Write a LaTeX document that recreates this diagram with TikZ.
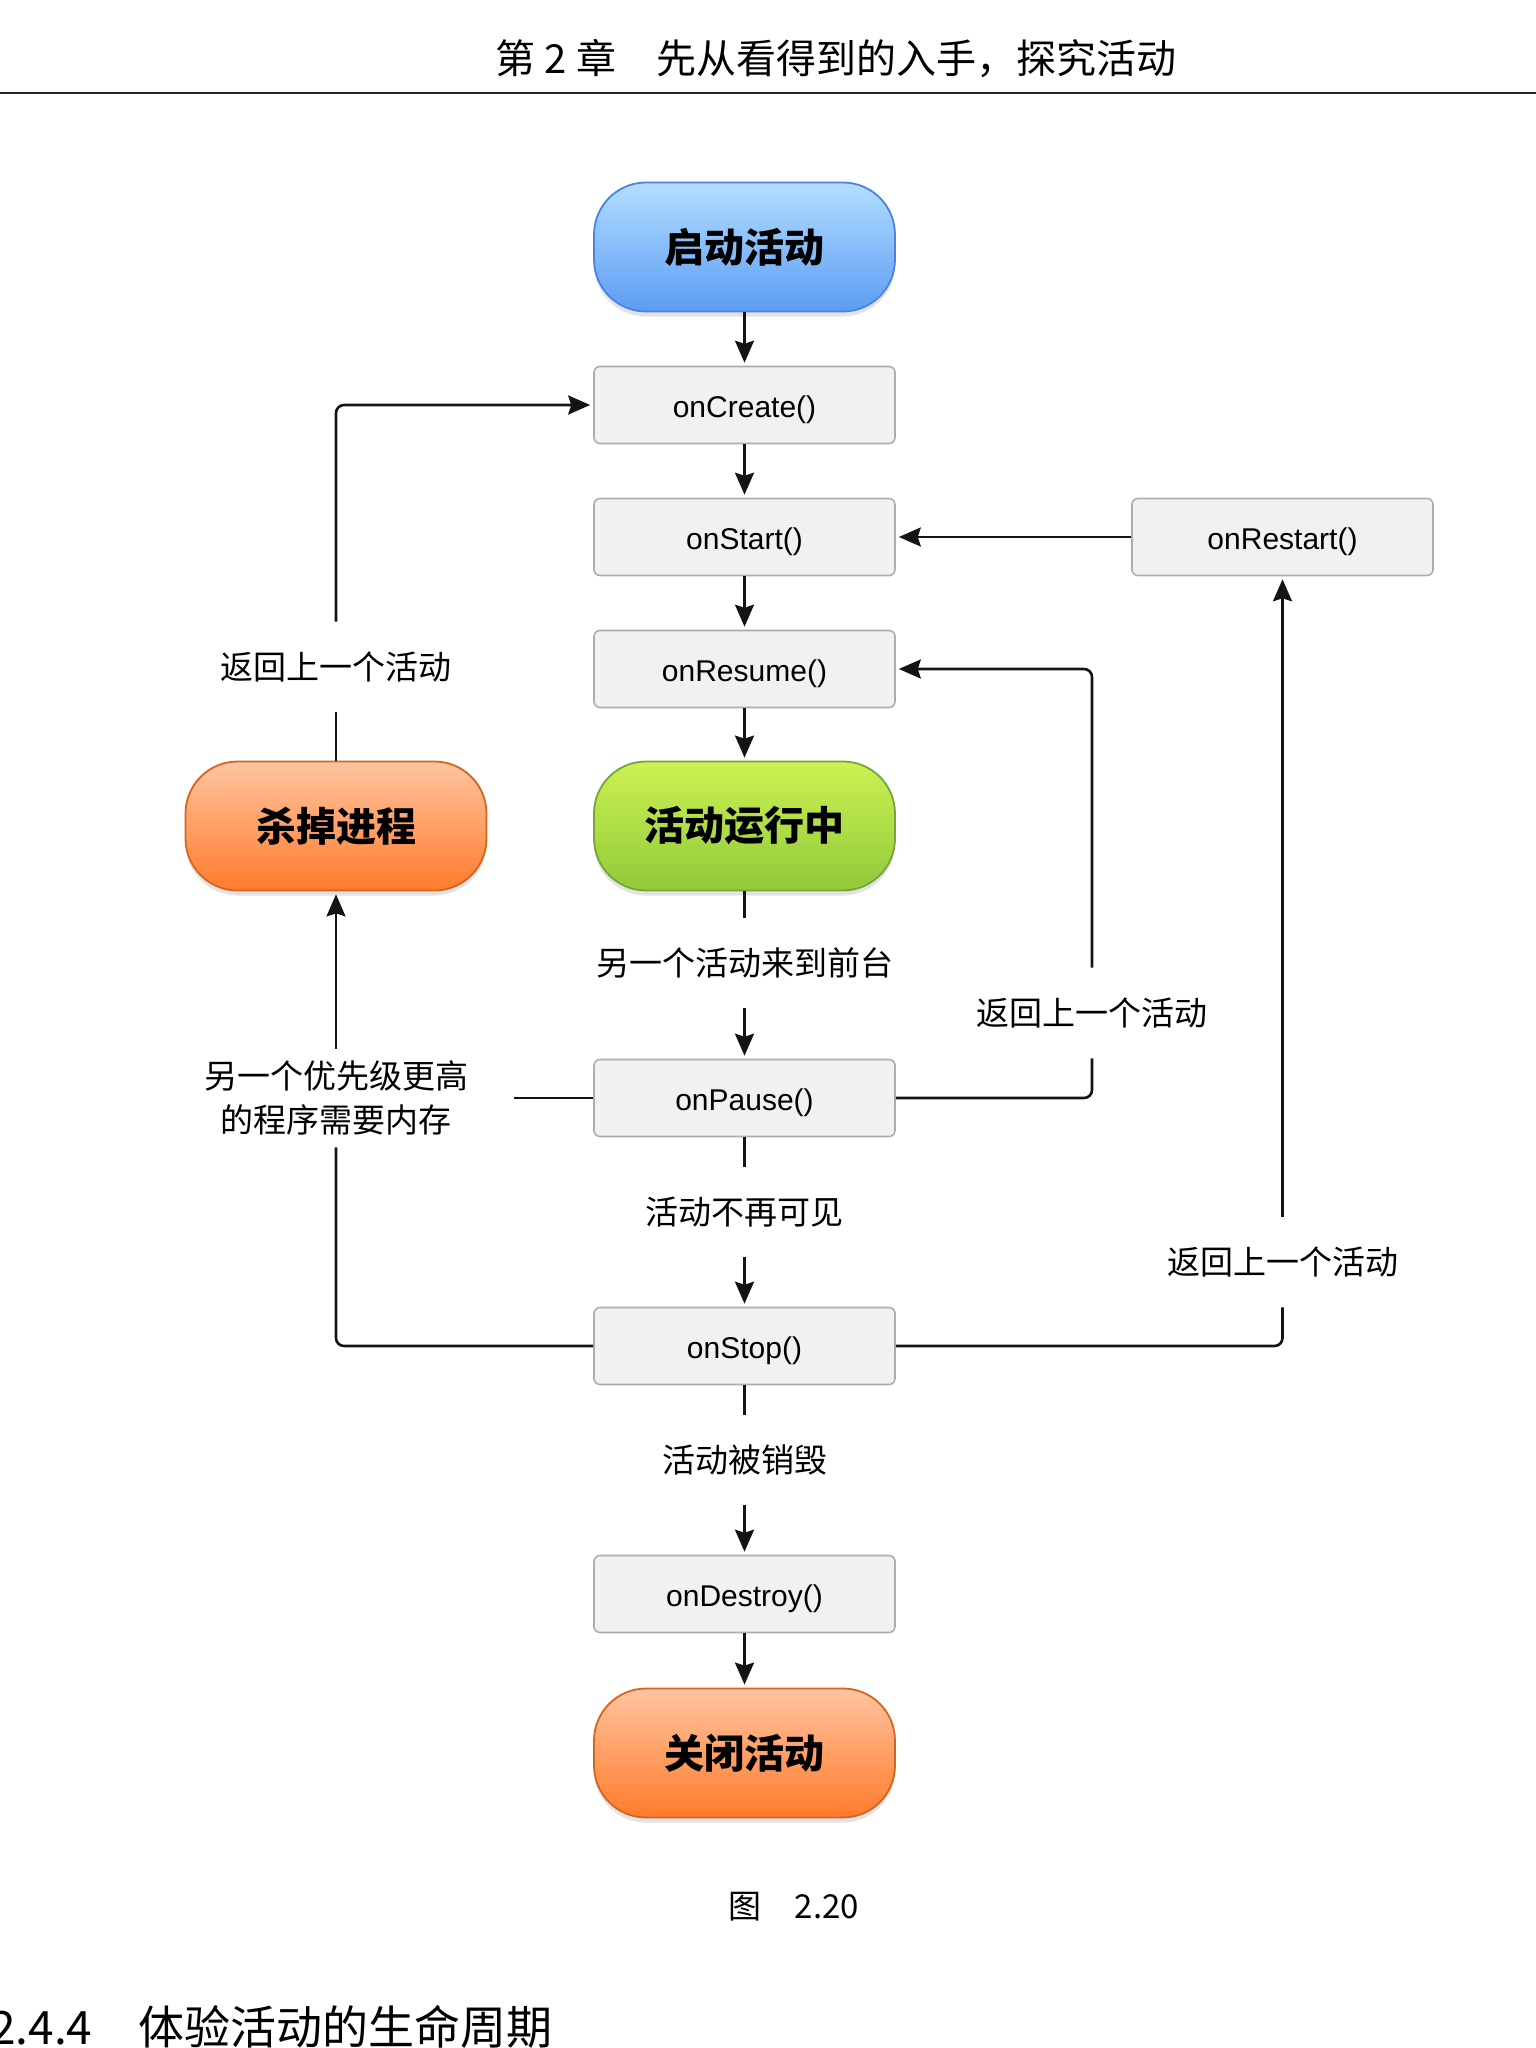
\documentclass[tikz,border=0pt]{standalone}
\usepackage{fontspec}
\setmainfont{Liberation Sans}
\newfontfamily\cjk{Noto Sans CJK SC}
\usetikzlibrary{arrows.meta,shadows}
\definecolor{boxfill}{HTML}{F1F1F1}
\definecolor{boxline}{HTML}{ADADAD}
\definecolor{bluetop}{HTML}{B3DEFF}
\definecolor{bluebot}{HTML}{5C9CF4}
\definecolor{blueline}{HTML}{4C82E6}
\definecolor{greentop}{HTML}{CCF252}
\definecolor{greenbot}{HTML}{92C93A}
\definecolor{greenline}{HTML}{74A63A}
\definecolor{orangetop}{HTML}{FFC4A0}
\definecolor{orangebot}{HTML}{FF7B2C}
\definecolor{orangeline}{HTML}{D4651E}
\tikzset{
  methodbox/.style={draw=boxline, fill=boxfill, line width=1.6pt, rounded corners=6pt,
    minimum width=301pt, minimum height=77pt, inner sep=0pt,
    text height=30pt, text depth=6pt,
    font=\fontsize{30}{36}\selectfont},
  pill/.style={line width=1.8pt, rounded corners=52pt,
    minimum width=301pt, minimum height=129pt, inner sep=0pt,
    font=\cjk\bfseries\fontsize{40}{48}\selectfont,
    drop shadow={opacity=0.22, shadow xshift=0pt, shadow yshift=-5pt}},
  bluepill/.style={pill, draw=blueline, top color=bluetop, bottom color=bluebot},
  greenpill/.style={pill, draw=greenline, top color=greentop, bottom color=greenbot},
  orangepill/.style={pill, draw=orangeline, top color=orangetop, bottom color=orangebot},
  lbl/.style={font=\cjk\fontsize{33}{44}\selectfont, inner xsep=4pt, inner ysep=30pt, align=center},
  conn/.style={line width=2.6pt, draw=black!92},
  arr/.style={conn, -{Stealth[length=22pt,width=19pt,inset=3pt]}, shorten >=3pt},
}
\begin{document}
\begin{tikzpicture}[x=1pt, y=-1pt]
\useasboundingbox (0,0) rectangle (1536,2048);
% header
\node[font=\cjk\fontsize{40}{46}\selectfont] (hdr) at (836,59) {第 2 章\quad 先从看得到的入手，探究活动};
\coordinate (rl) at (0,93);
\coordinate (rr) at (1536,93);
\draw[line width=2.5pt, black!85] (rl) -- (rr);

% nodes
\node[bluepill] (start) at (744.5,247) {启动活动};
\node[methodbox] (create) at (744.5,405) {onCreate()};
\node[methodbox] (startm) at (744.5,537) {onStart()};
\node[methodbox] (restart) at (1282.5,537) {onRestart()};
\node[methodbox] (resume) at (744.5,669) {onResume()};
\node[greenpill] (running) at (744.5,826) {活动运行中};
\node[orangepill] (kill) at (336,826) {杀掉进程};
\node[methodbox] (pause) at (744.5,1098) {onPause()};
\node[methodbox] (stop) at (744.5,1346) {onStop()};
\node[methodbox] (destroy) at (744.5,1594) {onDestroy()};
\node[orangepill] (close) at (744.5,1753) {关闭活动};

% labels
\node[lbl] (lblBackL) at (336,667) {返回上一个活动};
\node[lbl] (lblFg) at (744.5,963) {另一个活动来到前台};
\node[lbl] (lblBackM) at (1092,1013) {返回上一个活动};
\node[lbl, inner xsep=46pt, inner ysep=12pt] (lblMem) at (336,1098) {另一个优先级更高\\的程序需要内存};
\node[lbl] (lblInvis) at (744.5,1212) {活动不再可见};
\node[lbl] (lblBackR) at (1282.5,1262) {返回上一个活动};
\node[lbl] (lblDestroyed) at (744.5,1460) {活动被销毁};

% caption and section heading
\node[font=\cjk\fontsize{33}{38}\selectfont] (cap) at (794,1907) {图\quad 2.20};
\node[font=\cjk\fontsize{46}{54}\selectfont, anchor=base east] (sec) at (556,2044) {2.4.4\quad 体验活动的生命周期};

% main column
\draw[arr] (start) -- (create);
\draw[arr] (create) -- (startm);
\draw[arr] (startm) -- (resume);
\draw[arr] (resume) -- (running);
\draw[conn] (running) -- (lblFg);
\draw[arr] (lblFg) -- (pause);
\draw[conn] (pause) -- (lblInvis);
\draw[arr] (lblInvis) -- (stop);
\draw[conn] (stop) -- (lblDestroyed);
\draw[arr] (lblDestroyed) -- (destroy);
\draw[arr] (destroy) -- (close);

% restart
\draw[arr] (restart) -- (startm);

% left loop
\draw[conn] (kill) -- (lblBackL);
\draw[arr, rounded corners=8pt] (lblBackL.north) |- (create.west);
\draw[conn] (pause.west) -- (lblMem.east);
\draw[arr] (lblMem) -- (kill);
\draw[conn, rounded corners=8pt] (stop.west) -| (lblMem.south);

% right loops
\draw[conn, rounded corners=8pt] (pause.east) -| (lblBackM.south);
\draw[arr, rounded corners=8pt] (lblBackM.north) |- (resume.east);
\draw[conn, rounded corners=8pt] (stop.east) -| (lblBackR.south);
\draw[arr] (lblBackR.north) -- (restart.south);
\end{tikzpicture}
\end{document}
